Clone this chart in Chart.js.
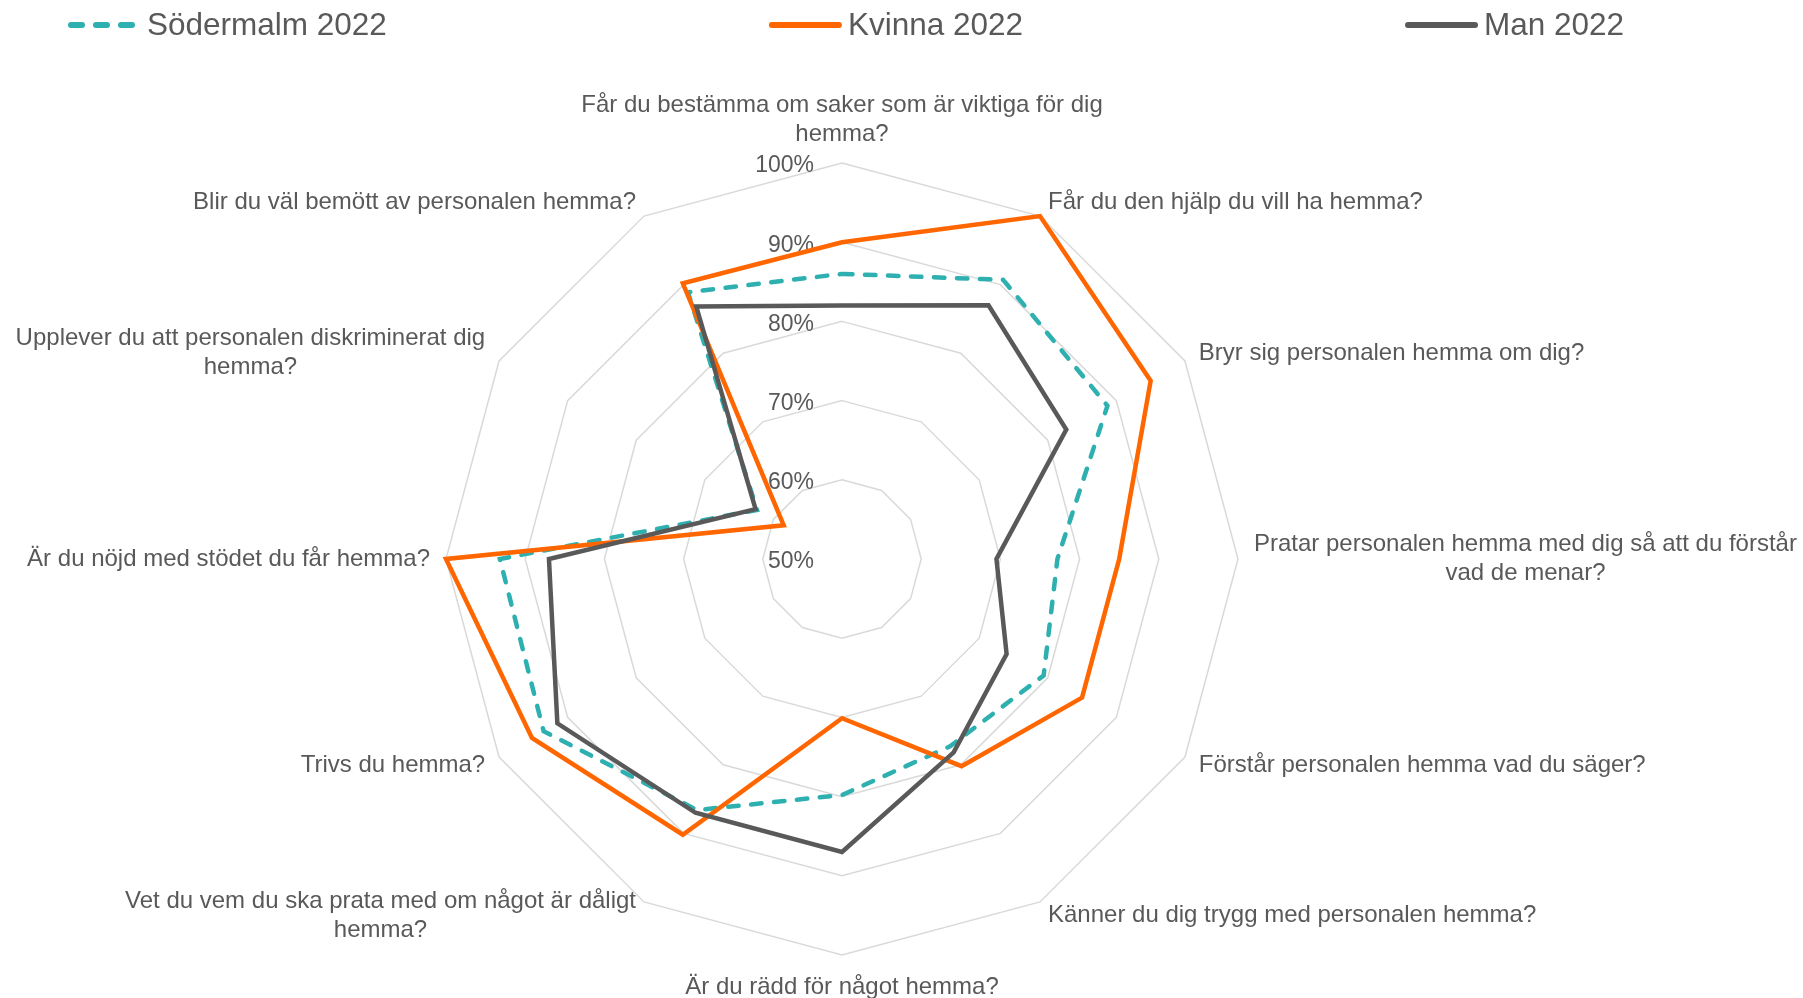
<!DOCTYPE html>
<html lang="sv">
<head>
<meta charset="utf-8">
<title>Södermalm 2022</title>
<script src="https://cdn.jsdelivr.net/npm/chart.js@4.4.1/dist/chart.umd.min.js"></script>
<style>
  html, body { margin: 0; padding: 0; background: #fff; }
  canvas { display: block; }
</style>
</head>
<body>
<canvas id="chart" width="1803" height="998"></canvas>
<script>
// frågor, medurs från toppen
const questions = [
    ['Får du bestämma om saker som är viktiga för dig', 'hemma?'],
    'Får du den hjälp du vill ha hemma?',
    'Bryr sig personalen hemma om dig?',
    ['Pratar personalen hemma med dig så att du förstår', 'vad de menar?'],
    'Förstår personalen hemma vad du säger?',
    'Känner du dig trygg med personalen hemma?',
    'Är du rädd för något hemma?',
    ['Vet du vem du ska prata med om något är dåligt', 'hemma?'],
    'Trivs du hemma?',
    'Är du nöjd med stödet du får hemma?',
    ['Upplever du att personalen diskriminerat dig', 'hemma?'],
    'Blir du väl bemött av personalen hemma?'
];

const seriesNames = ['Södermalm 2022', 'Kvinna 2022', 'Man 2022'];

const soder2022 = [86, 90.7, 88.7, 77.2, 79.4, 77.3, 79.8, 86.6, 93.5, 93.2, 62.4, 88.9];
const kvinna2022 = [90, 100, 95, 85, 85, 80.2, 70.1, 90.2, 95.2, 100, 58.5, 90.2];
const man2022 = [82, 87, 82.7, 69.5, 74, 78.2, 87, 87, 91.5, 87, 62.6, 86.8];

const tickMin = 50;
const tickMax = 100;
const tickStep = 10;

const textColor = '#595959';
const fontFamily = '"Liberation Sans", Arial, sans-serif';

// plot geometry of the original (centre and outer ring radius)
const plotCenterX = 842;
const plotCenterY = 559;
const plotRadius = 396;
const labelPad = 16;

Chart.defaults.font.family = fontFamily;
Chart.defaults.color = textColor;

// fixed centre/radius instead of the automatic fit
const RadialScale = Chart.registry.getScale('radialLinear');
RadialScale.prototype.setCenterPoint = function () {
    this.xCenter = plotCenterX;
    this.yCenter = plotCenterY;
    this.drawingArea = plotRadius;
};

// percent labels to the left of the vertical axis, under the lines
const tickLabels = {
    id: 'tickLabels',
    beforeDatasetsDraw(chart) {
        const s = chart.scales.r;
        const ctx = chart.ctx;
        ctx.save();
        ctx.font = '23px ' + fontFamily;
        ctx.fillStyle = textColor;
        ctx.textAlign = 'right';
        ctx.textBaseline = 'middle';
        s.ticks.forEach(t => {
            const y = s.yCenter - s.getDistanceFromCenterForValue(t.value);
            ctx.fillText(t.value + '%', s.xCenter - 28, y + 3);
        });
        ctx.restore();
    }
};

// wide legend row at the top
const wideLegend = {
    id: 'wideLegend',
    afterDraw(chart) {
        const ctx = chart.ctx;
        let x = 68;
        const y = 25;
        ctx.save();
        ctx.font = '31.5px ' + fontFamily;
        ctx.textBaseline = 'middle';
        chart.data.datasets.forEach(ds => {
            ctx.strokeStyle = ds.borderColor;
            ctx.lineWidth = 6;
            ctx.lineCap = 'round';
            ctx.setLineDash(ds.borderDash && ds.borderDash.length ? [11, 14] : []);
            ctx.beginPath();
            ctx.moveTo(x + 3, y);
            ctx.lineTo(x + 70, y);
            ctx.stroke();
            ctx.setLineDash([]);
            ctx.fillStyle = textColor;
            ctx.textAlign = 'left';
            ctx.fillText(ds.label, x + 79, y + 1.5);
            x += 79 + ctx.measureText(ds.label).width + 382;
        });
        ctx.restore();
    }
};

const ctx = document.getElementById('chart').getContext('2d');

const myChart = new Chart(ctx, {
    type: 'radar',
    data: {
        labels: questions,
        datasets: [
            {
                label: seriesNames[0],
                data: soder2022,
                borderColor: '#2eafb0',
                borderDash: [10.5, 12.5],
                borderCapStyle: 'round',
                order: 2
            },
            {
                label: seriesNames[1],
                data: kvinna2022,
                borderColor: '#ff6600',
                order: 1
            },
            {
                label: seriesNames[2],
                data: man2022,
                borderColor: '#595959',
                order: 0
            }
        ]
    },
    options: {
        responsive: false,
        animation: false,
        layout: { padding: 0 },
        elements: {
            line: { borderWidth: 4.5, fill: false, tension: 0 },
            point: { radius: 0, hoverRadius: 0 }
        },
        plugins: {
            legend: { display: false },
            tooltip: { enabled: false }
        },
        scales: {
            r: {
                min: tickMin,
                max: tickMax,
                ticks: { stepSize: tickStep, display: false },
                grid: { color: '#d9d9d9', lineWidth: 1.5 },
                angleLines: { display: false },
                pointLabels: {
                    font: { size: 24, family: fontFamily },
                    color: textColor,
                    padding: labelPad
                },
                afterFit(scale) {
                    // centre the labels on their anchor, like the original
                    (scale._pointLabelItems || []).forEach((item, i) => {
                        const deg = Math.round(scale.getIndexAngle(i) * 180 / Math.PI) % 360;
                        const h = item.bottom - item.top;
                        const w = item.right - item.left;
                        if (deg !== 0 && deg !== 180) {
                            const p = scale.getPointPosition(i, scale.drawingArea + labelPad);
                            item.y = item.top = p.y - h / 2;
                            item.bottom = item.top + h;
                        } else {
                            item.y += 2;
                            item.top += 2;
                            item.bottom += 2;
                        }
                        item.x = item.left + w / 2;
                        item.textAlign = 'center';
                    });
                }
            }
        }
    },
    plugins: [tickLabels, wideLegend]
});
</script>
</body>
</html>
